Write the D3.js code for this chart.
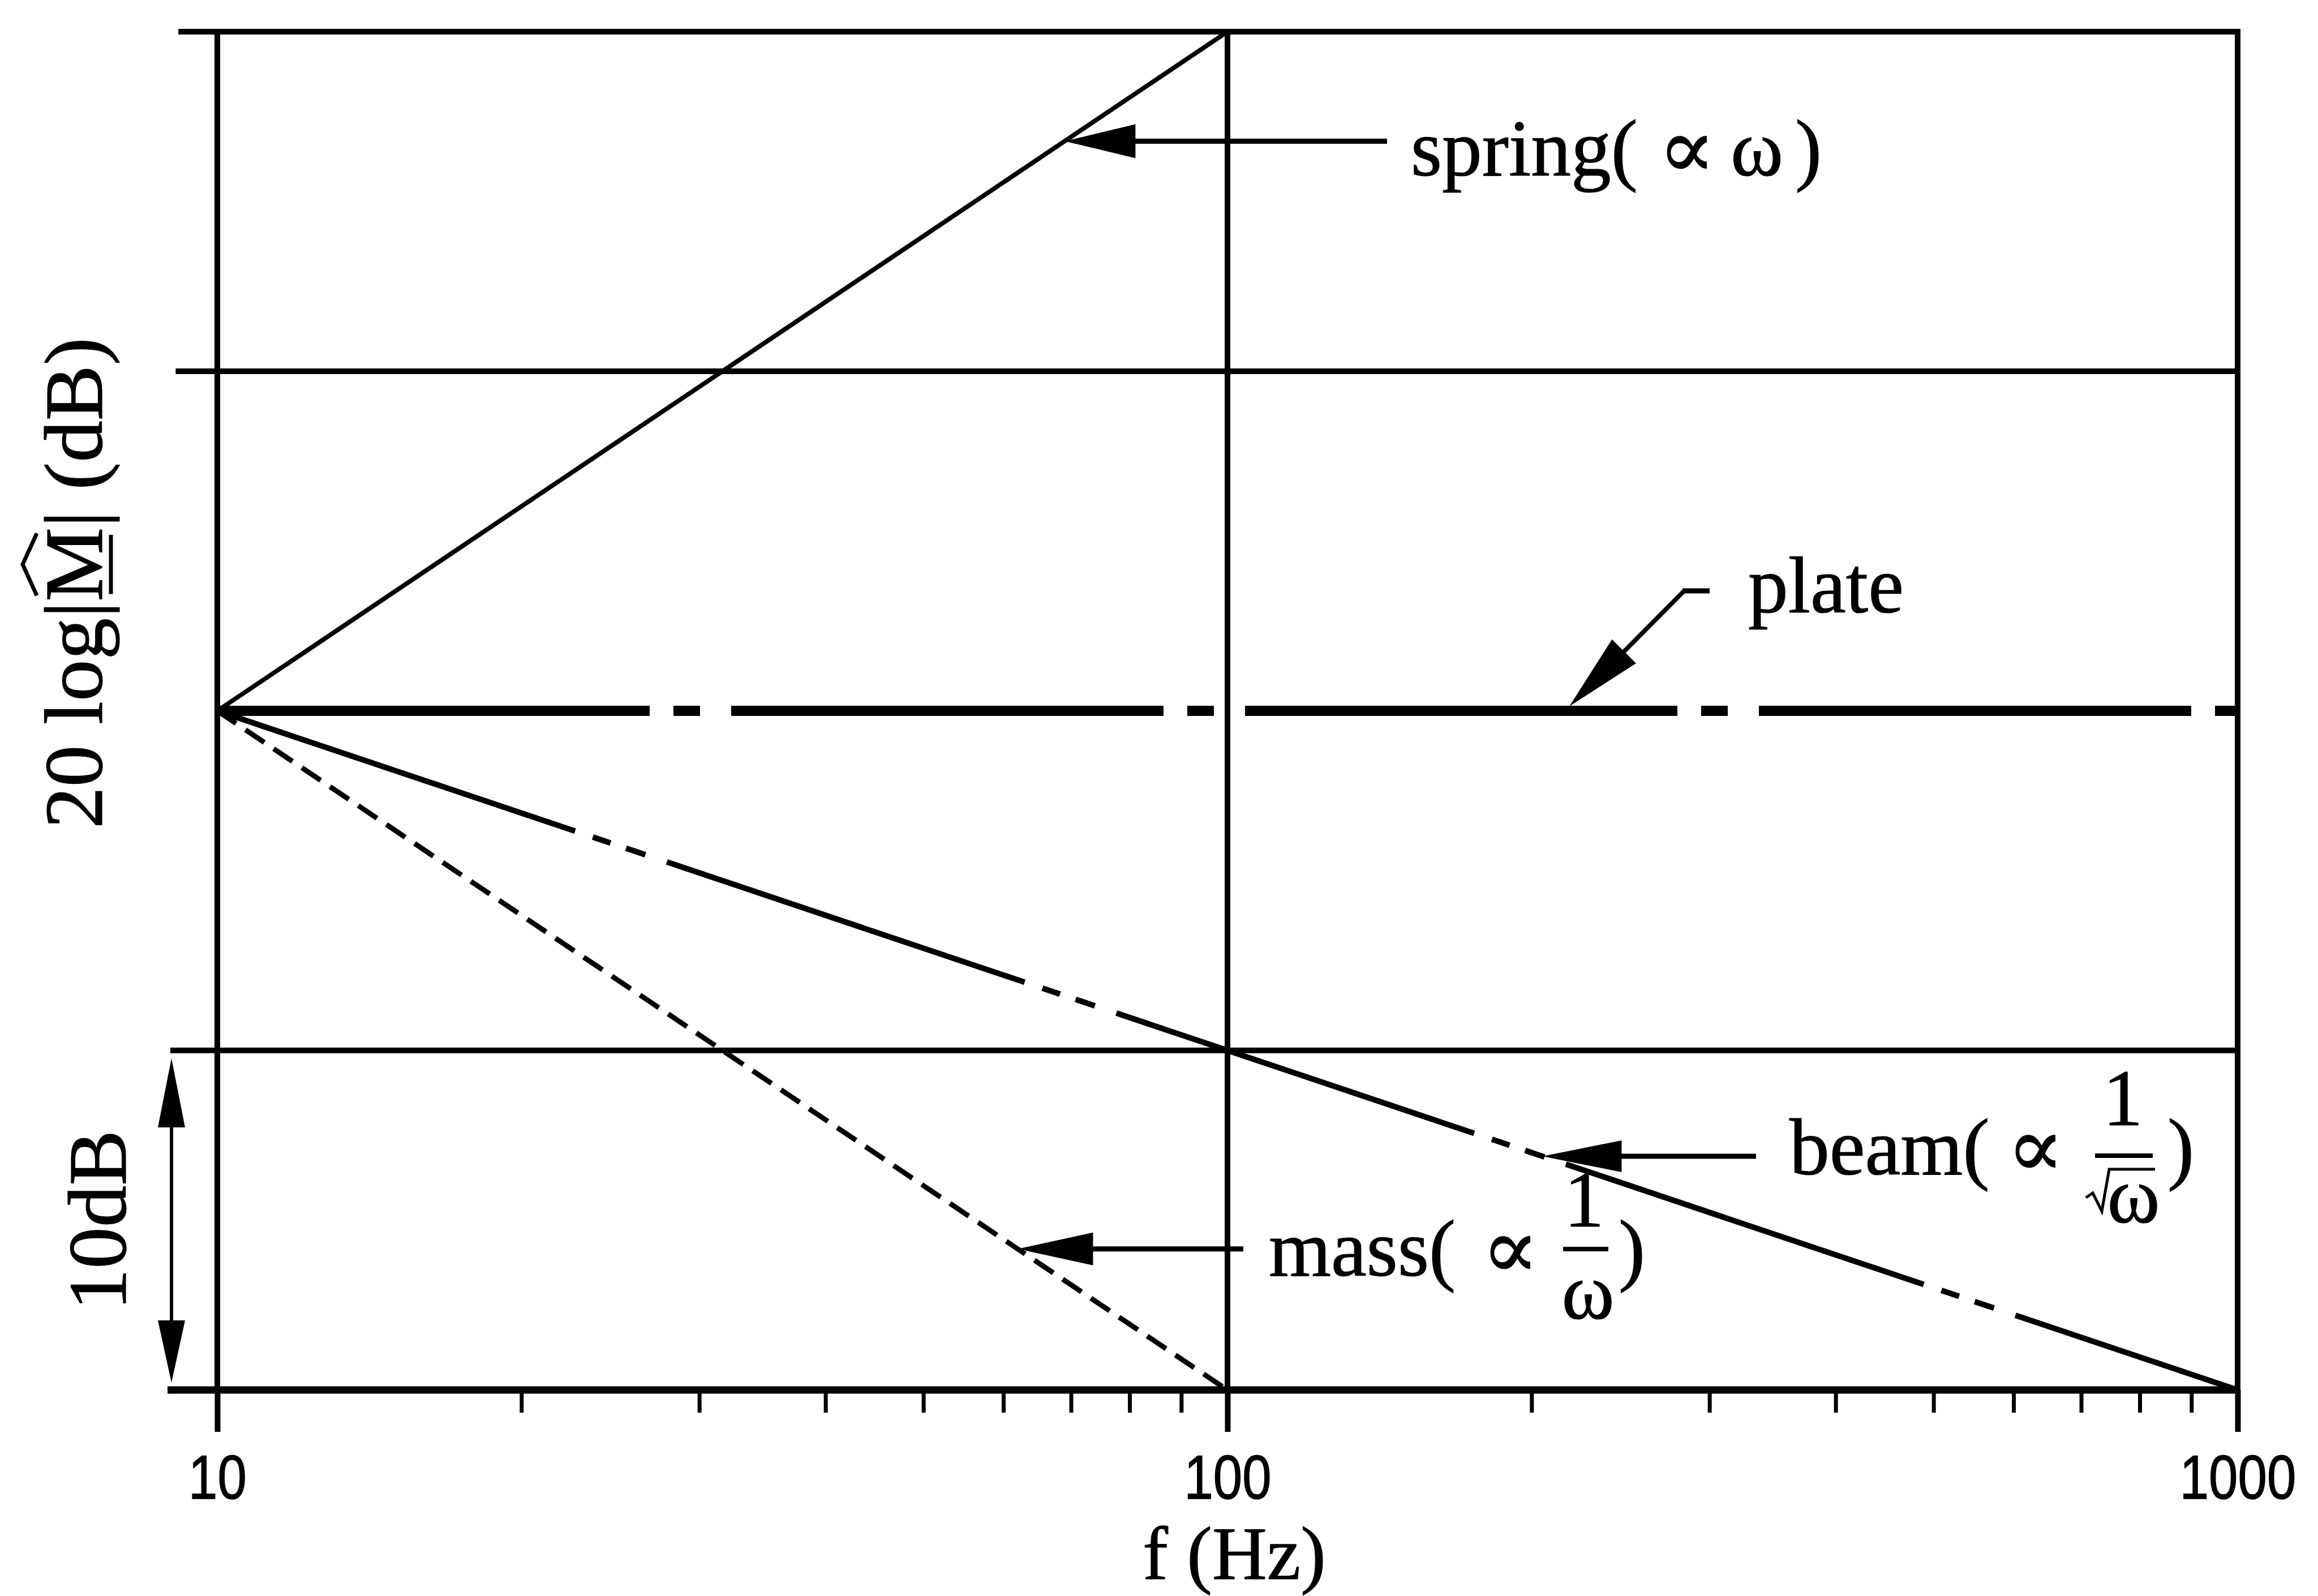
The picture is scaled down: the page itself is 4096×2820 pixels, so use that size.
<!DOCTYPE html>
<html>
<head>
<meta charset="utf-8">
<script src="https://cdn.jsdelivr.net/npm/d3@7"></script>
<style>
  html, body { margin: 0; padding: 0; background: #fff; }
  svg { display: block; }
</style>
</head>
<body>
<script>
// Frequency axis (Hz)
const decadeTicks = [10, 100, 1000];
const minorTicks = [20, 30, 40, 50, 60, 70, 80, 90, 200, 300, 400, 500, 600, 700, 800, 900];
// Level grid in dB; the 0 dB level is carried by the plate curve itself
const levelGrid = [20, 10, -10, -20];

// Mobility level 20 log|M| (dB) of each element type, relative to 10 Hz
const springFreq = [10, 100];
const springDb = [0, 20];
const plateFreq = [10, 1000];
const plateDb = [0, 0];
const beamFreq = [10, 100, 1000];
const beamDb = [0, -10, -20];
const massFreq = [10, 100];
const massDb = [0, -20];

// Frequencies (Hz) where each caption's arrow meets its curve
const springPointer = 69;
const platePointer = 218;
const beamPointer = 205;
const massPointer = 62;

// Caption texts
const springName = "spring(";
const plateName = "plate";
const beamName = "beam(";
const massName = "mass(";
const propSym = "\u221D";
const omega = "\u03C9";
const yTitle = "20 log|M| (dB)";
const xTitle = "f (Hz)";
const stepTitle = "10dB";

const W = 4096, H = 2820;
const ink = "#000";
const serif = "'Liberation Serif', 'Times New Roman', 'DejaVu Serif', serif";
const symFont = "'DejaVu Serif', serif";

const svg = d3.select("body").append("svg")
  .attr("width", W).attr("height", H)
  .attr("viewBox", `0 0 ${W} ${H}`);
svg.append("rect").attr("width", W).attr("height", H).attr("fill", "#fff");

const x = d3.scaleLog().domain([10, 1000]).range([384, 3954]);
const y = d3.scaleLinear().domain([-20, 20]).range([2456, 56]);

// level of a straight (log-frequency) curve at frequency f
function dbAt(freqs, dbs, f) {
  const lf = Math.log10(f);
  for (let i = 0; i < freqs.length - 1; i++) {
    const a = Math.log10(freqs[i]), b = Math.log10(freqs[i + 1]);
    if (lf >= a && lf <= b) return dbs[i] + (dbs[i + 1] - dbs[i]) * (lf - a) / (b - a);
  }
  return dbs[dbs.length - 1];
}

// ---- grid -------------------------------------------------------------
const grid = svg.append("g");
grid.selectAll("line.h").data(levelGrid).join("line")
  .attr("class", "h")
  .attr("x1", d => 296 + (d + 20) * 0.48)
  .attr("x2", x(1000) + 5)
  .attr("y1", d => y(d)).attr("y2", d => y(d))
  .attr("stroke", ink)
  .attr("stroke-width", d => d === -20 ? 13 : 10);

grid.selectAll("line.v").data(decadeTicks).join("line")
  .attr("class", "v")
  .attr("x1", d => x(d)).attr("x2", d => x(d))
  .attr("y1", y(20) - 5).attr("y2", y(-20))
  .attr("stroke", ink).attr("stroke-width", 10);

// ---- frequency axis ticks ------------------------------------------------
const axisY = y(-20);
const gMinor = svg.append("g").attr("transform", `translate(0,${axisY})`)
  .call(d3.axisBottom(x).tickValues(minorTicks).tickFormat(() => "").tickSize(40));
gMinor.select(".domain").remove();
gMinor.selectAll("line").attr("stroke", ink).attr("stroke-width", 7);

const gMajor = svg.append("g").attr("transform", `translate(0,${axisY})`)
  .call(d3.axisBottom(x).tickValues(decadeTicks).tickFormat(d3.format("d")).tickSize(74).tickPadding(0));
gMajor.select(".domain").remove();
gMajor.selectAll("line").attr("stroke", ink).attr("stroke-width", 10);
gMajor.selectAll("text")
  .attr("y", 192).attr("dy", 0)
  .attr("fill", ink)
  .attr("stroke", ink).attr("stroke-width", 1.5)
  .attr("font-family", "'Liberation Sans', Arial, sans-serif")
  .attr("font-size", 110)
  .attr("transform", "scale(0.84,1)");

// ---- curves ---------------------------------------------------------------
const line = d3.line().x(d => x(d[0])).y(d => y(d[1]));
const curves = svg.append("g").attr("fill", "none").attr("stroke", ink).attr("stroke-linecap", "butt");

curves.append("path").attr("d", line(d3.zip(plateFreq, plateDb)))
  .attr("stroke-width", 18).attr("stroke-dasharray", "764 42 47 55");
curves.append("path").attr("d", line(d3.zip(beamFreq, beamDb)))
  .attr("stroke-width", 10).attr("stroke-dasharray", "667 33 33 29 36 40");
curves.append("path").attr("d", line(d3.zip(massFreq, massDb)))
  .attr("stroke-width", 9).attr("stroke-dasharray", "40 20");
curves.append("path").attr("d", line(d3.zip(springFreq, springDb)))
  .attr("stroke-width", 8);

// ---- arrows ---------------------------------------------------------------
function arrowHead(tip, dir, len, halfW) {
  const n = Math.hypot(dir[0], dir[1]);
  const ux = dir[0] / n, uy = dir[1] / n;
  const bx = tip[0] + ux * len, by = tip[1] + uy * len;
  const px = -uy, py = ux;
  return [[tip[0], tip[1]], [bx + px * halfW, by + py * halfW], [bx - px * halfW, by - py * halfW]];
}
const marks = svg.append("g");
function drawArrow(tip, dir, len, halfW) {
  marks.append("polygon")
    .attr("points", arrowHead(tip, dir, len, halfW).map(p => p.join(",")).join(" "))
    .attr("fill", ink);
}
function drawLine(x1, y1, x2, y2, w) {
  marks.append("line").attr("x1", x1).attr("y1", y1).attr("x2", x2).attr("y2", y2)
    .attr("stroke", ink).attr("stroke-width", w);
}

const labels = svg.append("g").attr("font-family", serif).attr("fill", ink)
  .attr("stroke", ink).attr("stroke-width", 1.2).attr("font-size", 141.5);

// spring
const sTip = [x(springPointer), y(dbAt(springFreq, springDb, springPointer))];
drawArrow(sTip, [1, 0], 125, 30);
drawLine(sTip[0] + 120, sTip[1], 2451, sTip[1], 9);
{
  const b = sTip[1] + 61;
  labels.append("text").attr("x", 2493).attr("y", b).text(springName);
  labels.append("text").attr("x", 2930).attr("y", b + 4).attr("font-family", symFont).attr("font-size", 150).text(propSym);
  labels.append("text").attr("x", 3058).attr("y", b).text(omega);
  labels.append("text").attr("x", 3172).attr("y", b).text(")");
}

// plate
const pLine = [x(platePointer), y(dbAt(plateFreq, plateDb, platePointer)) - 8];
const pCorner = [2976, 1044];
drawArrow(pLine, [pCorner[0] - pLine[0], pCorner[1] - pLine[1]], 137, 30);
drawLine(pLine[0] + 60, pLine[1] - 60, pCorner[0], pCorner[1], 8);
drawLine(pCorner[0] - 3, pCorner[1], 3021, pCorner[1], 9);
labels.append("text").attr("x", 3089).attr("y", 1082).text(plateName);

// beam
const bTip = [x(beamPointer), y(dbAt(beamFreq, beamDb, beamPointer))];
drawArrow(bTip, [1, 0], 140, 28);
drawLine(bTip[0] + 135, bTip[1], 3103, bTip[1], 9);
{
  const b = 2075;
  labels.append("text").attr("x", 3162).attr("y", b).text(beamName);
  labels.append("text").attr("x", 3546).attr("y", b + 4).attr("font-family", symFont).attr("font-size", 150).text(propSym);
  labels.append("text").attr("x", 3751).attr("y", 1988).attr("text-anchor", "middle").text("1");
  drawLine(3702, 2042, 3804, 2042, 8);
  marks.append("path")
    .attr("d", "M3686,2116 L3698,2108 L3714,2140 L3727,2066 L3808,2066")
    .attr("fill", "none").attr("stroke", ink).attr("stroke-width", 5);
  labels.append("text").attr("x", 3770).attr("y", 2160).attr("text-anchor", "middle").text(omega);
  labels.append("text").attr("x", 3830).attr("y", b).text(")");
}

// mass
const mTip = [x(massPointer), y(dbAt(massFreq, massDb, massPointer))];
drawArrow(mTip, [1, 0], 133, 29);
drawLine(mTip[0] + 128, mTip[1], 2197, mTip[1], 9);
{
  const b = 2254;
  labels.append("text").attr("x", 2242).attr("y", b).text(massName);
  labels.append("text").attr("x", 2618).attr("y", b + 4).attr("font-family", symFont).attr("font-size", 150).text(propSym);
  labels.append("text").attr("x", 2799).attr("y", 2167).attr("text-anchor", "middle").text("1");
  drawLine(2762, 2207, 2842, 2207, 8);
  labels.append("text").attr("x", 2806).attr("y", 2330).attr("text-anchor", "middle").text(omega);
  labels.append("text").attr("x", 2860).attr("y", b).text(")");
}

// ---- axis titles ------------------------------------------------------------
labels.append("text").attr("x", 2181).attr("y", 2790).attr("text-anchor", "middle")
  .attr("font-size", 134).text(xTitle);

const yl = svg.append("g").attr("transform", "translate(180,1030) rotate(-90)");
const ylText = yl.append("text").attr("text-anchor", "middle")
  .attr("font-family", serif).attr("font-size", 147).attr("fill", ink)
  .attr("stroke", ink).attr("stroke-width", 1.2).text(yTitle);
const mBox = ylText.node().getExtentOfChar(yTitle.indexOf("M"));
const mL = mBox.x, mW = mBox.width;
yl.append("polyline")
  .attr("points", [[mL + 0.08 * mW, -115], [mL + 0.5 * mW, -140], [mL + 0.92 * mW, -115]].map(p => p.join(",")).join(" "))
  .attr("fill", "none").attr("stroke", ink).attr("stroke-width", 7);
yl.append("line").attr("x1", mL + 0.1 * mW).attr("x2", mL + 0.9 * mW)
  .attr("y1", 16).attr("y2", 16).attr("stroke", ink).attr("stroke-width", 7);

// 10 dB step marker
svg.append("g").attr("transform", `translate(222,${(y(-10) + y(-20)) / 2}) rotate(-90)`)
  .append("text").attr("text-anchor", "middle").attr("font-family", serif)
  .attr("font-size", 147).attr("fill", ink).attr("stroke", ink).attr("stroke-width", 1.2).text(stepTitle);
{
  const ax = 303, top = y(-10) + 14, bot = y(-20) - 13;
  drawLine(ax, top + 100, ax, bot - 100, 6);
  drawArrow([ax, top], [0, 1], 122, 24);
  drawArrow([ax, bot], [0, -1], 110, 24);
}
</script>
</body>
</html>
